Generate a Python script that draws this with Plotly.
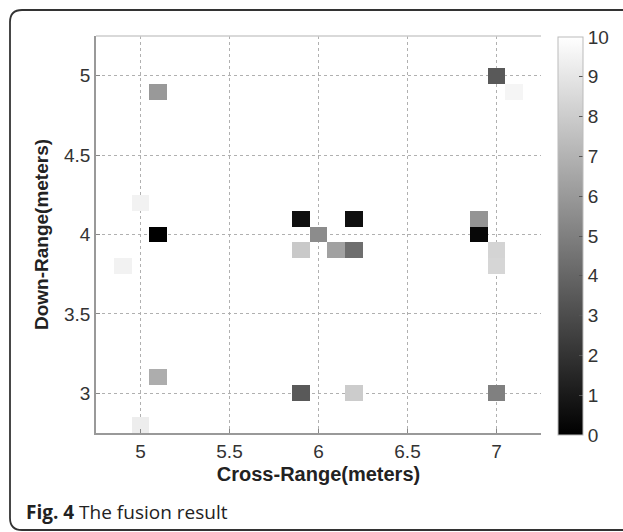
import numpy as np
import plotly.graph_objects as go

# ---- data ----
x_centers = [round(4.8 + 0.1 * i, 1) for i in range(25)]
y_centers = [round(2.8 + 0.1 * i, 1) for i in range(25)]

cell_x = [5.1, 5.0, 5.1, 4.9, 5.1, 5.0, 5.9, 6.0, 5.9, 6.1, 6.2, 6.2, 6.9, 6.9, 7.0, 7.0, 7.0, 7.1, 5.9, 6.2, 7.0]
cell_y = [4.9, 4.2, 4.0, 3.8, 3.1, 2.8, 4.1, 4.0, 3.9, 3.9, 3.9, 4.1, 4.1, 4.0, 3.9, 3.8, 5.0, 4.9, 3.0, 3.0, 3.0]
cell_v = [6.0, 9.5, 0.0, 9.5, 6.8, 9.3, 0.6, 5.5, 7.9, 6.3, 4.3, 0.6, 5.8, 0.3, 8.3, 8.4, 3.5, 9.6, 3.5, 8.0, 5.0]

x_ticks = [5, 5.5, 6, 6.5, 7]
y_ticks = [3, 3.5, 4, 4.5, 5]
cbar_ticks = list(range(0, 11))

z = [[None for _ in x_centers] for _ in y_centers]
for cx, cy, cv in zip(cell_x, cell_y, cell_v):
    i = y_centers.index(round(cy, 1))
    j = x_centers.index(round(cx, 1))
    z[i][j] = cv

W, H = 623, 532
L, R, T, B = 96, 82, 36, 99
PW, PH = W - L - R, H - T - B


def px(xp):
    return (xp - L) / PW


def py(yp):
    return (H - B - yp) / PH


fig = go.Figure()
fig.add_trace(go.Heatmap(
    x=x_centers, y=y_centers, z=z,
    zmin=0, zmax=10,
    colorscale=[[0, "black"], [1, "white"]],
    hoverongaps=False,
    colorbar=dict(
        x=px(558), xanchor="left", xref="paper",
        y=py(236), yanchor="middle",
        len=(435 - 37) / PH, lenmode="fraction",
        thickness=25, thicknessmode="pixels",
        outlinecolor="#bbbbbb", outlinewidth=1,
        tickvals=cbar_ticks, ticks="inside", ticklen=4, tickcolor="#555555",
        tickfont=dict(family="Liberation Sans, Arial", size=19, color="#333333"),
        xpad=0, ypad=0,
    ),
))

axis_font = dict(family="Liberation Sans, Arial", size=19, color="#333333")
title_font = dict(family="Liberation Sans, Arial", size=20, color="#222222")

fig.update_xaxes(
    range=[4.75, 7.25], tickvals=x_ticks, ticks="inside", ticklen=4, tickcolor="#888",
    showgrid=True, gridcolor="#b0b0b0", griddash="dot", gridwidth=1,
    showline=True, linecolor="#999999", linewidth=1.5, zeroline=False,
    tickfont=axis_font,
    title=dict(text="<b>Cross-Range(meters)</b>", font=title_font, standoff=6),
)
fig.update_yaxes(
    range=[2.75, 5.25], tickvals=y_ticks, ticks="inside", ticklen=4, tickcolor="#888",
    showgrid=True, gridcolor="#b0b0b0", griddash="dot", gridwidth=1,
    showline=True, linecolor="#999999", linewidth=1.5, zeroline=False,
    tickfont=axis_font,
    title=dict(text="<b>Down-Range(meters)</b>", font=dict(family="Liberation Sans, Arial", size=19, color="#222222"), standoff=10),
)

# rounded frame
x0, x1, y0, y1, r = 10, 640, 10, 530, 12
path = (
    f"M {px(x0 + r)},{py(y0)} L {px(x1)},{py(y0)} "
    f"M {px(x1)},{py(y1)} L {px(x0 + r)},{py(y1)} "
    f"Q {px(x0)},{py(y1)} {px(x0)},{py(y1 - r)} "
    f"L {px(x0)},{py(y0 + r)} "
    f"Q {px(x0)},{py(y0)} {px(x0 + r)},{py(y0)}"
)
shapes = [
    dict(type="path", xref="paper", yref="paper", path=path,
         line=dict(color="#333333", width=1.8)),
    dict(type="line", xref="paper", yref="paper", x0=0, x1=1, y0=1, y1=1,
         line=dict(color="#cccccc", width=1.5)),
]

fig.update_layout(
    width=W, height=H,
    margin=dict(l=L, r=R, t=T, b=B, autoexpand=False),
    paper_bgcolor="white", plot_bgcolor="white",
    shapes=shapes,
    annotations=[dict(
        xref="paper", yref="paper", x=px(24), y=py(512),
        xanchor="left", yanchor="middle", showarrow=False,
        text="<b>Fig. 4</b> The fusion result",
        font=dict(family="Open Sans", size=19, color="#222222"),
    )],
)

fig.write_html("out.html")
